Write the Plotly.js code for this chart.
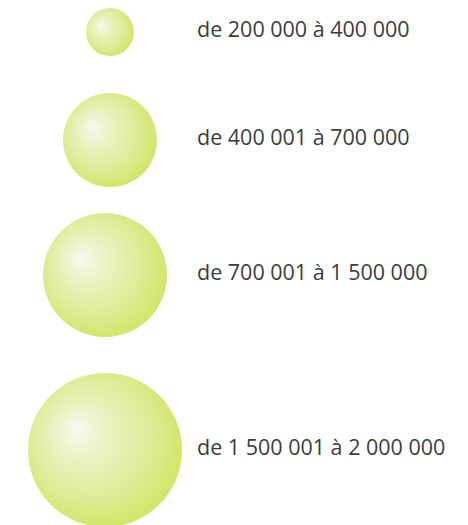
<!DOCTYPE html>
<html>
<head>
<meta charset="utf-8">
<script src="https://cdn.plot.ly/plotly-3.0.1.min.js"></script>
<style>
  html, body { margin: 0; padding: 0; background: #ffffff; }
  #chart { width: 468px; height: 525px; }
</style>
</head>
<body>
<div id="chart"></div>
<script>
// ---- data ----
var classLabels = [
  "de 200 000 à 400 000",
  "de 400 001 à 700 000",
  "de 700 001 à 1 500 000",
  "de 1 500 001 à 2 000 000"
];
var classLower = [200000, 400001, 700001, 1500001];
var classUpper = [400000, 700000, 1500000, 2000000];

// ---- style / layout config ----
var BUBBLE_DIAMETERS = [48, 94, 124, 154];   // legend symbol sizes (px)
var TOP_PAD = 8;
var ROW_GAPS = [37, 26, 36];
var BUBBLE_X = [110, 110, 105, 105];
var LABEL_X = 197;
var W = 468, H = 525;
var SPHERE_STOPS = [
  [0.00, "#f5f7e8"],
  [0.30, "#e3eca8"],
  [0.70, "#d0e266"],
  [1.00, "#c0da22"]
];

// stack rows from the symbol sizes
var rowY = [];
var rowTop = TOP_PAD;
for (var i = 0; i < BUBBLE_DIAMETERS.length; i++) {
  rowY.push(rowTop + BUBBLE_DIAMETERS[i] / 2);
  rowTop += BUBBLE_DIAMETERS[i] + (ROW_GAPS[i] || 0);
}
var labelX = classLabels.map(function () { return LABEL_X; });

var bubbles = {
  type: "scatter",
  mode: "markers",
  x: BUBBLE_X,
  y: rowY,
  customdata: classUpper,
  hoverinfo: "skip",
  marker: {
    size: BUBBLE_DIAMETERS,
    sizemode: "diameter",
    color: "#c2da26",
    line: { width: 0 },
    gradient: { type: "radial", color: "#f5f7e8" }
  },
  showlegend: false
};

var labels = {
  type: "scatter",
  mode: "text",
  x: labelX,
  y: rowY,
  text: classLabels,
  textposition: "middle right",
  textfont: { family: "Open Sans, Noto Sans, sans-serif", size: 21.5, color: "#3c3c3c" },
  hoverinfo: "skip",
  showlegend: false
};

var layout = {
  width: W,
  height: H,
  margin: { l: 0, r: 0, t: 0, b: 0 },
  paper_bgcolor: "#ffffff",
  plot_bgcolor: "#ffffff",
  xaxis: { range: [0, W], visible: false, fixedrange: true },
  yaxis: { range: [H, 0], visible: false, fixedrange: true },
  showlegend: false
};

Plotly.newPlot("chart", [bubbles, labels], layout, { displayModeBar: false, staticPlot: true })
  .then(function (gd) {
    // shift the radial highlight toward the upper-left to give a sphere look
    var grads = gd.querySelectorAll("radialGradient");
    var NS = "http://www.w3.org/2000/svg";
    grads.forEach(function (g) {
      g.setAttribute("cx", "0.45");
      g.setAttribute("cy", "0.45");
      g.setAttribute("r", "0.58");
      g.setAttribute("fx", "0.30");
      g.setAttribute("fy", "0.36");
      while (g.firstChild) g.removeChild(g.firstChild);
      SPHERE_STOPS.forEach(function (s) {
        var st = document.createElementNS(NS, "stop");
        st.setAttribute("offset", String(s[0]));
        st.setAttribute("stop-color", s[1]);
        st.setAttribute("stop-opacity", "1");
        g.appendChild(st);
      });
    });
  });
</script>
</body>
</html>
